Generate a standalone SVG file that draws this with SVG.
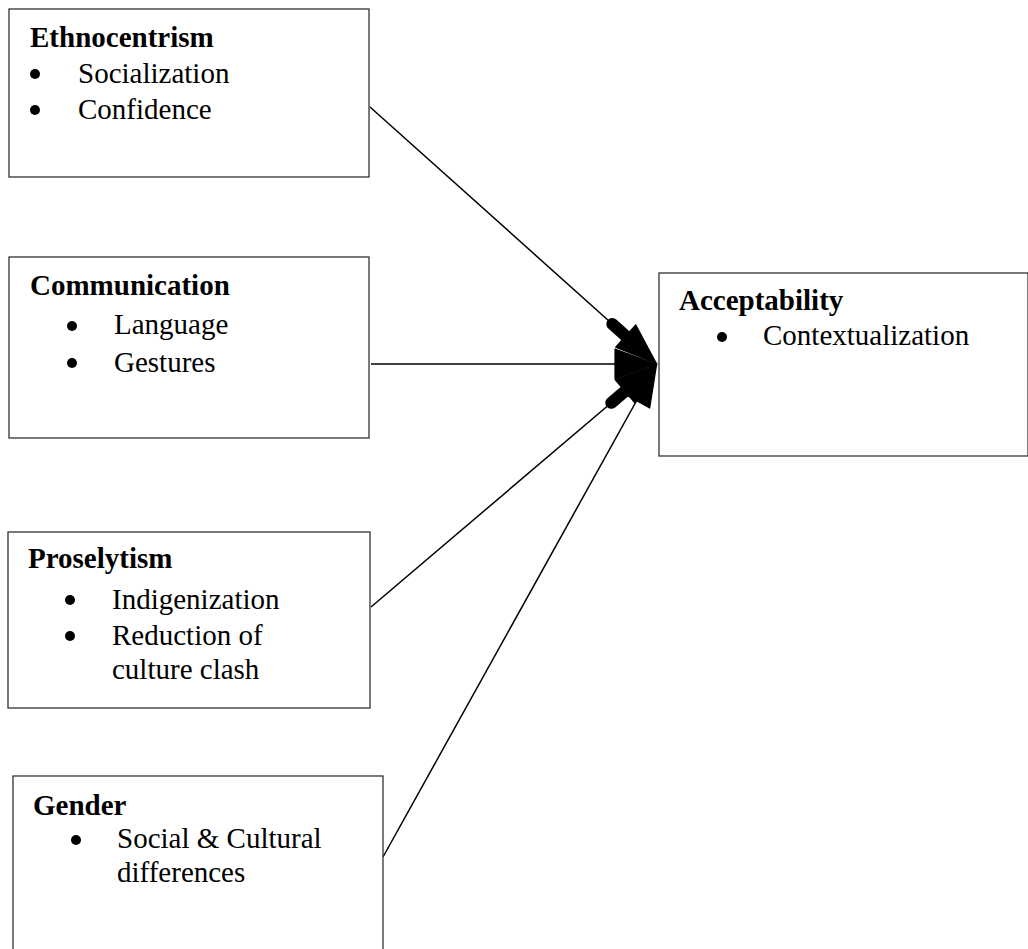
<svg xmlns="http://www.w3.org/2000/svg" width="1028" height="949" viewBox="0 0 1028 949">
<style>
.box{fill:#fff;stroke:#333;stroke-width:1.3}
.t{font-family:"Liberation Serif","Times New Roman",serif;font-size:29px;fill:#000}
.h{font-weight:bold}
.b{fill:#000}
.c{stroke:#000;stroke-width:1.5;fill:none}
.hd{fill:#000;stroke:#000;stroke-width:1.2;stroke-linejoin:round}
</style>
<defs>
<marker id="ah" markerUnits="userSpaceOnUse" markerWidth="70" markerHeight="40" refX="0" refY="0" viewBox="-60 -20 70 40" orient="auto" overflow="visible">
<path class="hd" d="M-1,0 L-42,-15 L-42,15 Z"/>
</marker>
<marker id="ahs" markerUnits="userSpaceOnUse" markerWidth="80" markerHeight="40" refX="0" refY="0" viewBox="-70 -20 80 40" orient="auto" overflow="visible">
<path class="hd" d="M-1,0 L-42,-15 L-42,15 Z"/>
<line x1="-60" y1="0" x2="-30" y2="0" stroke="#000" stroke-width="12" stroke-linecap="round"/>
</marker>
</defs>
<rect width="1028" height="949" fill="#fff"/>
<g id="connectors">
<line class="c" x1="370" y1="107" x2="657" y2="364" marker-end="url(#ahs)"/>
<line class="c" x1="371" y1="364" x2="657" y2="364" marker-end="url(#ah)"/>
<line class="c" x1="371" y1="607" x2="657" y2="364" marker-end="url(#ahs)"/>
<line class="c" x1="383" y1="857" x2="657" y2="364" marker-end="url(#ah)"/>
</g>
<g id="ethnocentrism">
<rect class="box" x="9" y="9" width="360" height="168"/>
<text class="t h" x="30" y="47">Ethnocentrism</text>
<circle class="b" cx="35" cy="74" r="5"/>
<text class="t" x="78" y="83">Socialization</text>
<circle class="b" cx="35" cy="110" r="5"/>
<text class="t" x="78" y="119">Confidence</text>
</g>
<g id="communication">
<rect class="box" x="9" y="257" width="360" height="181"/>
<text class="t h" x="30" y="295">Communication</text>
<circle class="b" cx="72" cy="326" r="5"/>
<text class="t" x="114" y="334">Language</text>
<circle class="b" cx="72" cy="363" r="5"/>
<text class="t" x="114" y="372">Gestures</text>
</g>
<g id="proselytism">
<rect class="box" x="8" y="532" width="362" height="176"/>
<text class="t h" x="28" y="568">Proselytism</text>
<circle class="b" cx="70" cy="600" r="5"/>
<text class="t" x="112" y="609">Indigenization</text>
<circle class="b" cx="70" cy="636" r="5"/>
<text class="t" x="112" y="645">Reduction of</text>
<text class="t" x="112" y="679">culture clash</text>
</g>
<g id="gender">
<rect class="box" x="13" y="776" width="370" height="190"/>
<text class="t h" x="33" y="815">Gender</text>
<circle class="b" cx="76" cy="840" r="5"/>
<text class="t" x="117" y="848">Social &amp; Cultural</text>
<text class="t" x="117" y="882">differences</text>
</g>
<g id="acceptability">
<rect class="box" x="659" y="273" width="369" height="183"/>
<text class="t h" x="679" y="310">Acceptability</text>
<circle class="b" cx="722" cy="337" r="5"/>
<text class="t" x="763" y="345">Contextualization</text>
</g>
</svg>
